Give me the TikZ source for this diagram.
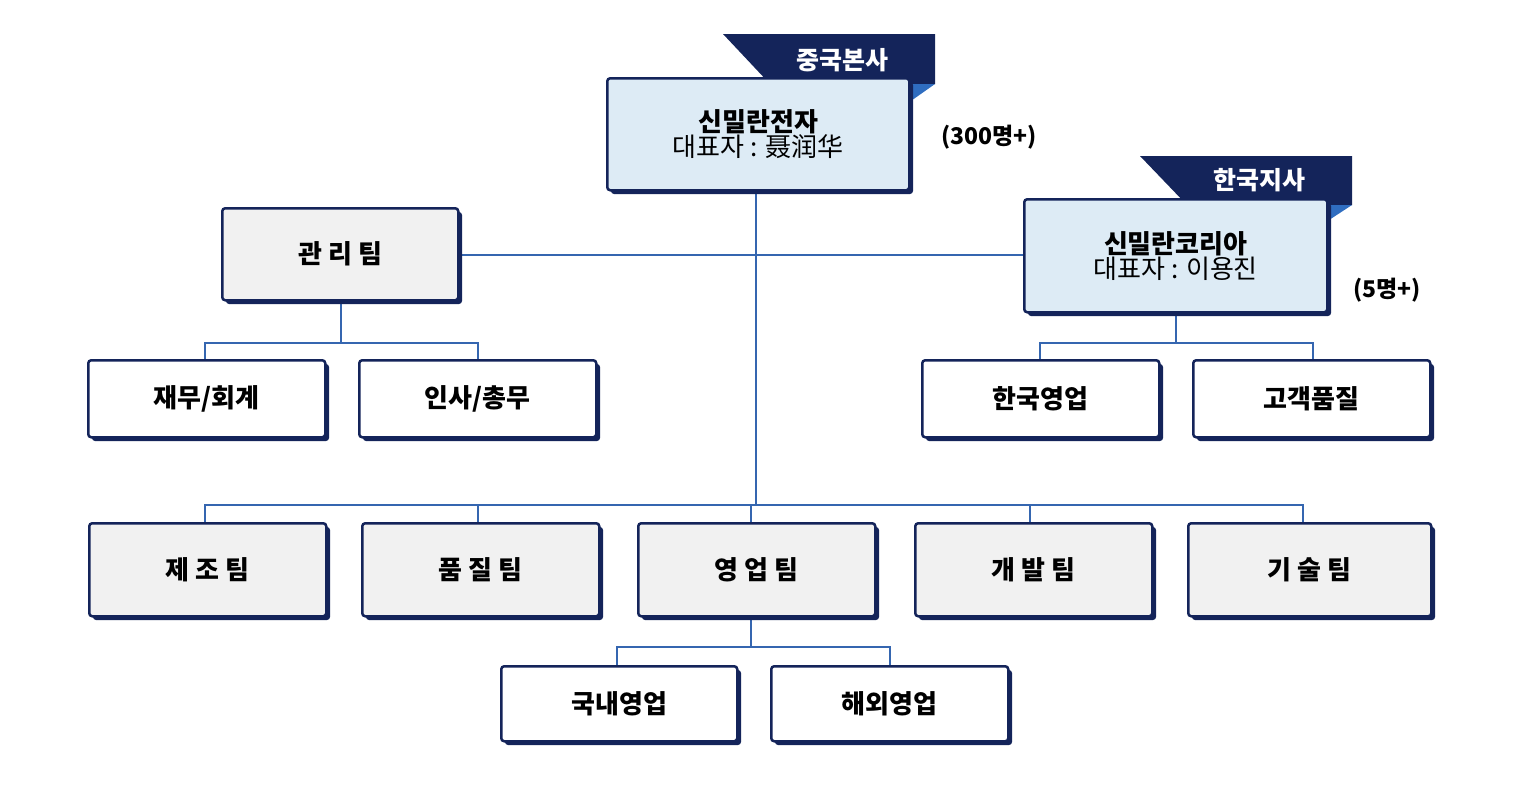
\documentclass[tikz,border=0pt]{standalone}
\usepackage{fontspec}
\setmainfont{Noto Sans CJK KR}
\begin{document}
\begin{tikzpicture}[x=1pt,y=-1pt,
 ln/.style={draw=lb,line width=1.5pt}]
\definecolor{navy}{HTML}{14245A}
\definecolor{lb}{HTML}{3566B0}
\definecolor{fold}{HTML}{2F6DC0}
\definecolor{gr}{HTML}{F1F1F1}
\definecolor{lbl}{HTML}{DDEBF5}
\useasboundingbox (0,0) rectangle (1523,785);
\newcommand{\bx}[7]{% name x1 y1 x2 y2 fill text
 \fill[navy,rounded corners=3pt] (#2+5,#3+5) rectangle (#4+5,#5+5);
 \node[draw=navy,line width=2.5pt,rounded corners=3pt,fill=#6,minimum width=#4-#2,minimum height=#5-#3,inner sep=0pt,anchor=north west,align=center] (#1) at (#2,#3) {#7};}
% connectors
\coordinate (c1) at (756,255); \coordinate (c2) at (756,505);
\coordinate (m1) at (341,343); \coordinate (k1) at (1176,343); \coordinate (y1) at (751,647);
\draw[ln] (756,189) -- (c2);
\draw[ln] (457,255) -- (1023,255);
\draw[ln] (341,299) -- (m1);
\draw[ln] (205,359) |- (m1) -| (478,359);
\draw[ln] (1176,311) -- (k1);
\draw[ln] (1040,359) |- (k1) -| (1313,359);
\draw[ln] (205,522) |- (c2) -| (1303,522);
\draw[ln] (478,505) -- (478,522);
\draw[ln] (1030,505) -- (1030,522);
\draw[ln] (751,505) -- (751,522);
\draw[ln] (751,615) -- (y1);
\draw[ln] (617,665) |- (y1) -| (890,665);
% tags
\fill[navy] (723,34) -- (935,34) -- (935,84) -- (770,84) -- cycle;
\fill[fold] (908,84) -- (935,84) -- (908,103) -- cycle;
\node[text=white,font=\bfseries\fontsize{25}{28}\selectfont] (t1) at (842,60) {중국본사};
\fill[navy] (1140,156) -- (1352,156) -- (1352,205) -- (1187,205) -- cycle;
\fill[fold] (1326,205) -- (1352,205) -- (1326,222) -- cycle;
\node[text=white,font=\bfseries\fontsize{25}{28}\selectfont] (t2) at (1259,180) {한국지사};
% boxes
\bx{hq}{606}{77}{908}{189}{lbl}{{\bfseries\fontsize{26}{36}\selectfont 신밀란전자}\\{\fontsize{26}{36}\selectfont 대표자 : 聂润华}}
\bx{kr}{1023}{198}{1326}{311}{lbl}{{\bfseries\fontsize{26}{36}\selectfont 신밀란코리아}\\{\fontsize{26}{36}\selectfont 대표자 : 이용진}}
\node[font=\bfseries\fontsize{23}{26}\selectfont] (n1) at (989,137) {(300명+)};
\node[font=\bfseries\fontsize{23}{26}\selectfont] (n2) at (1387,290) {(5명+)};
\tikzset{every node/.append style={font=\bfseries\fontsize{26}{30}\selectfont}}
\bx{mg}{221}{207}{457}{299}{gr}{관 리 팀}
\bx{a1}{87}{359}{324}{436}{white}{재무/회계}
\bx{a2}{358}{359}{595}{436}{white}{인사/총무}
\bx{b1}{921}{359}{1158}{436}{white}{한국영업}
\bx{b2}{1192}{359}{1429}{436}{white}{고객품질}
\bx{r1}{88}{522}{325}{615}{gr}{제 조 팀}
\bx{r2}{361}{522}{598}{615}{gr}{품 질 팀}
\bx{r3}{637}{522}{874}{615}{gr}{영 업 팀}
\bx{r4}{914}{522}{1151}{615}{gr}{개 발 팀}
\bx{r5}{1187}{522}{1430}{615}{gr}{기 술 팀}
\bx{s1}{500}{665}{736}{740}{white}{국내영업}
\bx{s2}{770}{665}{1007}{740}{white}{해외영업}
\end{tikzpicture}
\end{document}
